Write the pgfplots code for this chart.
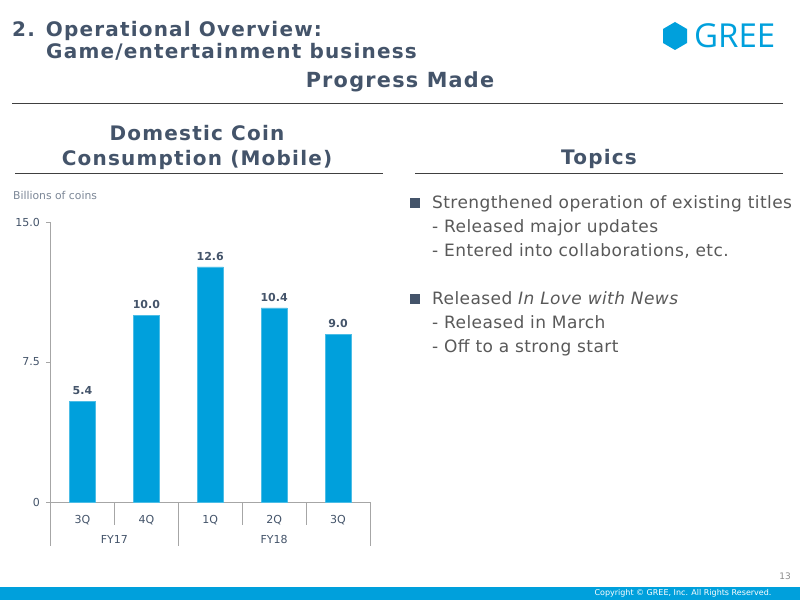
\documentclass[border=0pt]{standalone}
\usepackage{fontspec}
\usepackage{pgfplots}
\pgfplotsset{compat=1.18}
\setmainfont{DejaVu Sans}
\newfontfamily\headfont[LetterSpace=6]{DejaVu Sans}
\newfontfamily\bodyfont[LetterSpace=2.5]{DejaVu Sans}
\newfontfamily\logofont{Open Sans}

\definecolor{slate}{HTML}{44546A}
\definecolor{greeblue}{HTML}{00A0DC}
\definecolor{bodytext}{HTML}{595959}
\definecolor{rulegray}{HTML}{404040}
\definecolor{axisgray}{HTML}{A6A6A6}

\begin{document}
\begin{tikzpicture}[x=1pt,y=1pt]
% page
\path[use as bounding box,fill=white] (0,0) rectangle (800,600);

% heading
\tikzset{head/.style={inner sep=0,text=slate,font=\headfont\bfseries\fontsize{20}{24}\selectfont}}
\node[head,anchor=base west] at (12,563) {2. Operational Overview:};
\node[head,anchor=base west] at (46,541) {Game/entertainment business};
\node[head,anchor=base,font=\headfont\bfseries\fontsize{20.8}{24}\selectfont] at (400,512) {Progress Made};
\draw[rulegray,line width=0.8pt] (12,497) -- (783,497);

% logo
\fill[greeblue] (675,578) -- (687,571) -- (687,557) -- (675,550) -- (663,557) -- (663,571) -- cycle;
\node[anchor=west,inner sep=0,text=greeblue,font=\logofont\fontsize{33}{36}\selectfont] at (694,564) {GREE};

% section headers
\node[head,anchor=base] at (197,459) {Domestic Coin};
\node[head,anchor=base] at (197,434) {Consumption (Mobile)};
\draw[rulegray,line width=0.8pt] (15,427) -- (383,427);
\node[head,anchor=base] at (599,435) {Topics};
\draw[rulegray,line width=0.8pt] (415,427) -- (783,427);

% unit
\node[anchor=base west,inner sep=0,text=slate!70,font=\fontsize{10.8}{12}\selectfont] at (13,400) {Billions of coins};

% chart
\begin{axis}[
  at={(50.5pt,98pt)}, anchor=south west,
  scale only axis, width=319.5pt, height=280pt,
  xmin=-0.5, xmax=4.5, ymin=0, ymax=15,
  axis lines*=left,
  axis line style={axisgray,line width=0.9pt},
  ytick={0,7.5,15},
  yticklabels={0,7.5,15.0},
  ytick style={axisgray,line width=0.9pt},
  yticklabel style={xshift=-3pt},
  tick align=outside,
  major tick length=4pt,
  xtick={0,1,2,3,4},
  xticklabels={3Q,4Q,1Q,2Q,3Q},
  x tick style={draw=none},
  xticklabel style={yshift=-6pt},
  ticklabel style={text=slate,font=\fontsize{11}{13}\selectfont},
  /pgf/number format/assume math mode=true,
  clip=false,
  nodes near coords,
  nodes near coords style={text=slate,font=\bfseries\fontsize{11}{13}\selectfont,yshift=3pt,
    /pgf/number format/.cd,fixed,fixed zerofill,precision=1,assume math mode=true},
]
\addplot[ybar, bar width=26pt, fill=greeblue, draw=greeblue!70!white, line width=0.4pt]
  coordinates {(0,5.4) (1,10.0) (2,12.6) (3,10.4) (4,9.0)};
% quarter separators
\draw[axisgray,line width=0.9pt] (axis cs:0.5,0) -- ([yshift=-23pt]axis cs:0.5,0);
\draw[axisgray,line width=0.9pt] (axis cs:2.5,0) -- ([yshift=-23pt]axis cs:2.5,0);
\draw[axisgray,line width=0.9pt] (axis cs:3.5,0) -- ([yshift=-23pt]axis cs:3.5,0);
% fiscal year brackets
\draw[axisgray,line width=0.9pt] (axis cs:-0.5,0) -- ([yshift=-44pt]axis cs:-0.5,0);
\draw[axisgray,line width=0.9pt] (axis cs:1.5,0) -- ([yshift=-44pt]axis cs:1.5,0);
\draw[axisgray,line width=0.9pt] (axis cs:4.5,0) -- ([yshift=-44pt]axis cs:4.5,0);
\node[text=slate,font=\fontsize{11}{13}\selectfont] at ([yshift=-37pt]axis cs:0.5,0) {FY17};
\node[text=slate,font=\fontsize{11}{13}\selectfont] at ([yshift=-37pt]axis cs:3,0) {FY18};
\end{axis}

% topics
\begin{scope}[every node/.style={anchor=base west,inner sep=0,text=bodytext,font=\bodyfont\fontsize{17}{20}\selectfont}]
\fill[slate] (410,392) rectangle (420,402);
\node at (432,391) {Strengthened operation of existing titles};
\node at (432,367) {- Released major updates};
\node at (432,343) {- Entered into collaborations, etc.};
\fill[slate] (410,296) rectangle (420,306);
\node at (432,295) {Released \textit{In Love with News}};
\node at (432,271) {- Released in March};
\node at (432,247) {- Off to a strong start};
\end{scope}

% footer
\node[anchor=base east,inner sep=0,text=black!45,font=\fontsize{9}{11}\selectfont] at (791,21) {13};
\fill[greeblue] (0,0) rectangle (800,13);
\node[text=white,inner sep=0,font=\fontsize{8}{10}\selectfont] at (683,6.5) {Copyright \textcopyright{} GREE, Inc. All Rights Reserved.};
\end{tikzpicture}
\end{document}
